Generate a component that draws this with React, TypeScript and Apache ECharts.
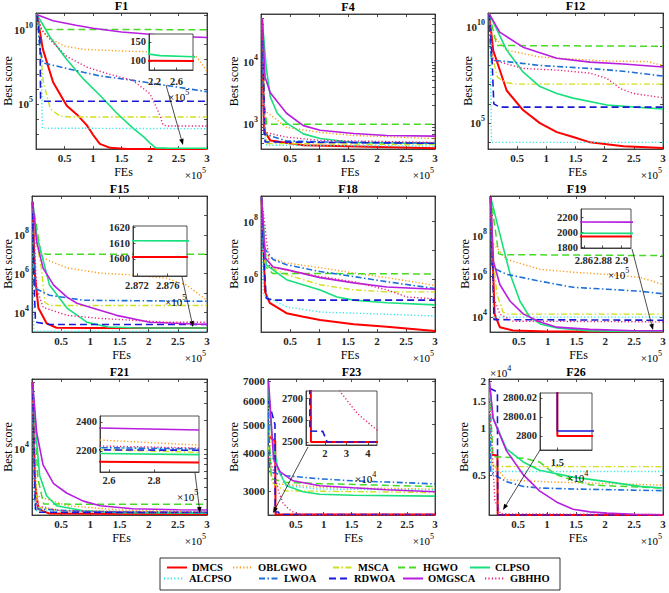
import React, { useEffect, useRef } from 'react';
import * as echarts from 'echarts';

type Pt = [number, number];

// algorithms, in legend order
const ALGOS = ['DMCS', 'OBLGWO', 'MSCA', 'HGWO', 'CLPSO', 'ALCPSO', 'LWOA', 'RDWOA', 'OMGSCA', 'GBHHO'];
const COLORS = ['#ff0000', '#ff9a10', '#cfe01c', '#46dc26', '#18e07c', '#2ee6e6', '#1e6fd9', '#1a1ad6', '#b81ee0', '#e8207a'];
const DASHES: (string | number[])[] = ['solid', [1.2, 2.2], [6, 2.5, 1.5, 2.5], [7, 4], 'solid', [1.2, 2.2], [6, 2.5, 1.5, 2.5], [7, 4], 'solid', [1.2, 2.2]];
const WIDTHS = [2, 1.4, 1.4, 1.5, 1.6, 1.4, 1.6, 1.6, 1.6, 1.4];

// x values are FEs in units of 1e5
const F1: Record<string, Pt[]> = {
  DMCS: [[0.02, 1e11], [0.12, 5e8], [0.3, 3e6], [0.54, 8e4], [0.72, 2e4], [0.89, 4000], [1.0, 900], [1.12, 220], [1.3, 120], [1.6, 101], [3, 100]],
  OBLGWO: [[0.02, 1e11], [0.1, 1e10], [0.2, 3.2e9], [0.5, 8e8], [0.83, 4.8e8], [1.7, 3.5e8], [2.4, 3.2e8], [2.65, 3e8], [2.83, 1.4e8], [3, 1.6e7]],
  MSCA: [[0.02, 1e11], [0.13, 3e6], [0.25, 5e4], [0.42, 1.6e4], [0.6, 1.4e4], [3, 1.4e4]],
  HGWO: [[0.02, 1.2e11], [0.06, 1.05e10], [3, 1e10]],
  CLPSO: [[0.02, 1e11], [0.25, 3e9], [0.54, 1e8], [0.83, 5e6], [1.12, 4e5], [1.42, 2.5e4], [1.7, 2500], [1.9, 600], [2.0, 250], [2.1, 118], [2.3, 114], [2.9, 111], [3, 110]],
  ALCPSO: [[0.02, 1e11], [0.095, 1e8], [0.11, 2500], [3, 2300]],
  LWOA: [[0.02, 1e11], [0.06, 1e9], [0.12, 6e7], [0.54, 2.5e7], [1.12, 8e6], [1.7, 4e6], [2.3, 1.8e6], [3, 7e5]],
  RDWOA: [[0.02, 1e11], [0.07, 2e9], [0.08, 2.5e5], [0.15, 1.6e5], [3, 1.6e5]],
  OMGSCA: [[0.02, 1e11], [0.3, 4e10], [0.7, 2e10], [1.0, 1.26e10], [1.5, 7e9], [2.0, 5e9], [2.5, 3.5e9], [3, 3e9]],
  GBHHO: [[0.02, 1e11], [0.1, 1e10], [0.3, 1.3e9], [0.54, 1.6e8], [0.9, 3e7], [1.3, 1e7], [1.7, 4e6], [2.0, 5e5], [2.15, 3e4], [2.23, 4000], [2.3, 3500], [3, 3500]],
};

const F4: Record<string, Pt[]> = {
  DMCS: [[0.02, 5e4], [0.05, 800], [0.16, 550], [0.73, 460], [3, 410]],
  OBLGWO: [[0.02, 5e4], [0.05, 1700], [0.44, 890], [1.02, 740], [1.6, 660], [3, 590]],
  MSCA: [[0.02, 5e4], [0.07, 1000], [0.1, 490], [3, 470]],
  HGWO: [[0.02, 5e4], [0.06, 2000], [0.1, 1000], [3, 1000]],
  CLPSO: [[0.02, 5e4], [0.09, 8300], [0.16, 2750], [0.28, 1500], [0.44, 1050], [0.73, 700], [1.02, 590], [1.6, 510], [3, 490]],
  ALCPSO: [[0.02, 5e4], [0.07, 600], [0.1, 460], [3, 445]],
  LWOA: [[0.02, 5e4], [0.05, 700], [0.44, 540], [1.02, 520], [3, 500]],
  RDWOA: [[0.02, 5e4], [0.06, 1500], [0.07, 520], [3, 495]],
  OMGSCA: [[0.02, 5e4], [0.07, 5700], [0.16, 3200], [0.44, 1500], [0.73, 950], [1.02, 800], [1.6, 710], [2.17, 660], [3, 645]],
  GBHHO: [[0.02, 5e4], [0.07, 740], [0.44, 620], [1.02, 550], [3, 510]],
};

const F12: Record<string, Pt[]> = {
  DMCS: [[0.02, 5e10], [0.09, 6e8], [0.32, 5e6], [0.6, 4.8e5], [0.89, 1e5], [1.18, 3.4e4], [1.46, 1.9e4], [1.75, 1e4], [2.32, 6300], [3, 5000]],
  OBLGWO: [[0.02, 5e10], [0.05, 4.8e9], [0.32, 6.3e8], [0.89, 2.75e8], [2.04, 1.7e8], [2.73, 1.6e8], [3, 1e8]],
  MSCA: [[0.02, 5e10], [0.05, 6e8], [0.16, 2.5e7], [0.32, 1.26e7], [0.5, 1.07e7], [3, 1.07e7]],
  HGWO: [[0.02, 5e10], [0.15, 1.1e9], [3, 1e9]],
  CLPSO: [[0.02, 5e10], [0.32, 6.3e8], [0.6, 4.6e7], [0.89, 8e6], [1.18, 3.5e6], [1.46, 2e6], [2.04, 8.7e5], [3, 5.4e5]],
  ALCPSO: [[0.02, 5e10], [0.04, 1e9], [0.06, 1e4], [3, 1e4]],
  LWOA: [[0.02, 5e10], [0.04, 1e9], [0.06, 1.9e8], [0.32, 1.6e8], [0.89, 1e8], [1.75, 7e7], [2.32, 5e7], [3, 2.8e7]],
  RDWOA: [[0.02, 5e10], [0.06, 1e9], [0.1, 1e6], [0.2, 6.8e5], [3, 6.8e5]],
  OMGSCA: [[0.02, 5e10], [0.2, 5.5e9], [0.6, 9e8], [1.18, 2.4e8], [1.75, 1.5e8], [2.32, 1.2e8], [3, 8.3e7]],
  GBHHO: [[0.02, 5e10], [0.09, 1.9e8], [0.6, 7e7], [1.18, 5.8e7], [1.75, 4e7], [2.04, 2.1e7], [2.27, 6.3e6], [2.49, 3.5e6], [3, 2.1e6]],
};

const F15: Record<string, Pt[]> = {
  DMCS: [[0.01, 5e9], [0.05, 8.5e5], [0.11, 1.7e4], [0.25, 2800], [0.42, 1650], [1.0, 1603], [3, 1601]],
  OBLGWO: [[0.01, 5e9], [0.05, 4.4e7], [0.19, 6.3e6], [0.6, 2e6], [1.17, 1.07e6], [1.73, 8.5e5], [2.3, 5.9e5], [2.65, 2.6e5], [2.88, 7.8e4], [3, 4.3e4]],
  MSCA: [[0.01, 5e9], [0.08, 4.4e7], [0.16, 2e6], [0.22, 3.4e4], [0.3, 2.3e4], [3, 2.3e4]],
  HGWO: [[0.01, 5e9], [0.15, 1.2e7], [0.25, 1e7], [3, 1e7]],
  CLPSO: [[0.01, 5e9], [0.08, 1e8], [0.3, 2.6e5], [0.6, 1.7e4], [0.94, 3200], [1.3, 1800], [1.7, 1650], [2.0, 1615], [3, 1611]],
  ALCPSO: [[0.01, 5e9], [0.02, 1e6], [0.03, 1100], [3, 1080]],
  LWOA: [[0.01, 5e9], [0.05, 1.8e5], [0.3, 7.8e4], [0.88, 4.3e4], [3, 3.8e4]],
  RDWOA: [[0.01, 5e9], [0.03, 1e6], [0.06, 3200], [0.3, 2450], [3, 2450]],
  OMGSCA: [[0.01, 5e9], [0.08, 4.4e7], [0.19, 1.95e6], [0.37, 2.6e5], [0.6, 6.2e4], [0.77, 3e4], [1.05, 1.66e4], [1.45, 7200], [2.02, 3200], [2.88, 2500], [3, 2500]],
  GBHHO: [[0.01, 5e9], [0.08, 1.8e5], [0.19, 1.86e4], [0.6, 7200], [1.17, 5000], [2.3, 3200], [3, 3200]],
};

const F18: Record<string, Pt[]> = {
  DMCS: [[0.01, 7e8], [0.07, 3.5e5], [0.15, 1.45e5], [0.44, 6.3e4], [0.73, 4.7e4], [1.02, 3.6e4], [1.6, 2.6e4], [2.17, 2.1e4], [3, 1.5e4]],
  OBLGWO: [[0.01, 7e8], [0.04, 8.9e6], [0.15, 5.5e6], [0.44, 3.6e6], [1.02, 2.45e6], [1.6, 1.6e6], [2.17, 1.1e6], [2.74, 7.2e5], [3, 5.8e5]],
  MSCA: [[0.01, 7e8], [0.07, 3e6], [0.44, 1.4e6], [1.02, 6.2e5], [1.6, 4.1e5], [2.17, 3.5e5], [3, 3.5e5]],
  HGWO: [[0.01, 7e8], [0.05, 3e6], [0.2, 1.55e6], [3, 1.48e6]],
  CLPSO: [[0.01, 7e8], [0.09, 3.1e6], [0.44, 9.3e5], [1.02, 4.1e5], [1.31, 2.3e5], [1.6, 1.8e5], [2.17, 1.45e5], [3, 1.23e5]],
  ALCPSO: [[0.01, 7e8], [0.04, 2.75e5], [0.21, 1.8e5], [0.44, 1.05e5], [1.02, 6.9e4], [1.6, 6.3e4], [3, 5e4]],
  LWOA: [[0.01, 7e8], [0.04, 1.3e7], [0.21, 4.7e6], [0.44, 3.1e6], [1.02, 1.8e6], [1.6, 1.2e6], [2.17, 7.9e5], [3, 4.6e5]],
  RDWOA: [[0.01, 7e8], [0.05, 5e6], [0.09, 2.1e5], [0.2, 1.8e5], [3, 1.8e5]],
  OMGSCA: [[0.01, 7e8], [0.07, 5.5e6], [0.21, 2.6e6], [0.44, 2.1e6], [1.02, 1.1e6], [1.6, 7.2e5], [2.17, 5.2e5], [3, 4.3e5]],
  GBHHO: [[0.01, 7e8], [0.15, 2.6e6], [1.02, 1.2e6], [1.6, 7.9e5], [2.17, 4.1e5], [2.52, 2.3e5], [3, 2e5]],
};

const F19: Record<string, Pt[]> = {
  DMCS: [[0.01, 8e9], [0.08, 1.4e4], [0.17, 3200], [0.4, 2200], [1.0, 1960], [3, 1940]],
  OBLGWO: [[0.01, 8e9], [0.03, 5e7], [0.29, 6.8e6], [0.87, 2.2e6], [1.44, 1.6e6], [2.02, 1.26e6], [2.6, 9e5], [3, 4e5]],
  MSCA: [[0.01, 8e9], [0.03, 5e7], [0.12, 1.3e5], [0.23, 1.7e4], [0.3, 1.4e4], [3, 1.4e4]],
  HGWO: [[0.01, 8e9], [0.15, 1.3e7], [0.2, 1.17e7], [3, 1.05e7]],
  CLPSO: [[0.01, 8e9], [0.23, 2.6e7], [0.35, 1.26e6], [0.52, 6e4], [0.69, 1e4], [0.87, 4600], [1.16, 2900], [1.73, 2100], [2.5, 1990], [3, 1980]],
  ALCPSO: [[0.01, 8e9], [0.05, 1e6], [0.06, 1e4], [3, 1e4]],
  LWOA: [[0.01, 8e9], [0.03, 2.75e6], [0.29, 1.26e6], [0.87, 5.8e5], [1.44, 2.9e5], [2.02, 2.35e5], [2.6, 1.86e5], [3, 1.4e5]],
  RDWOA: [[0.01, 8e9], [0.05, 1e6], [0.07, 7500], [3, 7000]],
  OMGSCA: [[0.01, 8e9], [0.06, 5.4e6], [0.17, 4e5], [0.35, 6e4], [0.58, 1.4e4], [0.87, 5800], [1.16, 3200], [1.73, 2500], [2.5, 2140], [3, 2130]],
  GBHHO: [[0.01, 8e9], [0.06, 1e5], [0.17, 1.4e4], [0.4, 6300], [3, 5800]],
};

const F21: Record<string, Pt[]> = {
  DMCS: [[0.01, 5e4], [0.05, 4500], [0.11, 2400], [0.3, 2150], [3, 2120]],
  OBLGWO: [[0.01, 5e4], [0.05, 1e4], [0.08, 3300], [0.6, 2600], [1.5, 2350], [2.5, 2280], [3, 2240]],
  MSCA: [[0.01, 5e4], [0.05, 5000], [0.1, 2500], [0.5, 2300], [3, 2190]],
  HGWO: [[0.01, 5e4], [0.1, 5000], [0.2, 2700], [3, 2690]],
  CLPSO: [[0.01, 5e4], [0.08, 1.2e4], [0.13, 5400], [0.25, 3300], [0.42, 2600], [0.88, 2300], [1.5, 2200], [3, 2175]],
  ALCPSO: [[0.01, 5e4], [0.03, 3000], [0.06, 2300], [3, 2210]],
  LWOA: [[0.01, 5e4], [0.05, 3000], [0.1, 2400], [1.0, 2250], [3, 2215]],
  RDWOA: [[0.01, 5e4], [0.06, 2400], [0.1, 2220], [3, 2205]],
  OMGSCA: [[0.01, 5e4], [0.08, 1.5e4], [0.19, 6900], [0.37, 4400], [0.6, 3500], [0.88, 2900], [1.17, 2600], [1.73, 2420], [2.5, 2360], [3, 2345]],
  GBHHO: [[0.01, 5e4], [0.07, 2600], [0.5, 2300], [3, 2220]],
};

const F23: Record<string, Pt[]> = {
  DMCS: [[0.01, 4570], [0.13, 4400], [0.135, 2500], [3, 2500]],
  OBLGWO: [[0.01, 6000], [0.06, 3400], [0.1, 3170], [1.0, 3080], [3, 3040]],
  MSCA: [[0.01, 4240], [0.07, 3200], [0.3, 3000], [3, 2960]],
  HGWO: [[0.01, 5000], [0.06, 3300], [0.3, 3200], [1.0, 3170], [2.1, 3130], [3, 3100]],
  CLPSO: [[0.01, 6630], [0.07, 4570], [0.18, 3530], [0.33, 3120], [0.63, 2980], [0.93, 2920], [1.53, 2900], [3, 2880]],
  ALCPSO: [[0.01, 6000], [0.03, 4000], [0.33, 3120], [0.93, 3040], [3, 3020]],
  LWOA: [[0.01, 5500], [0.03, 3470], [0.33, 3370], [0.93, 3290], [1.53, 3240], [2.13, 3210], [3, 3165]],
  RDWOA: [[0.01, 6000], [0.125, 5000], [0.13, 2550], [0.19, 2548], [0.21, 2500], [3, 2500]],
  OMGSCA: [[0.01, 7000], [0.1, 3830], [0.22, 3470], [0.45, 3240], [0.93, 3120], [1.53, 3070], [2.13, 3025], [3, 2980]],
  GBHHO: [[0.01, 3900], [0.1, 3500], [0.2, 2950], [0.27, 2730], [0.35, 2630], [0.44, 2555], [0.55, 2505], [0.7, 2500], [3, 2500]],
};

const F26: Record<string, Pt[]> = {
  DMCS: [[0.01, 6800], [0.145, 6700], [0.15, 2800], [3, 2800]],
  OBLGWO: [[0.01, 15000], [0.05, 6000], [0.3, 4700], [1.0, 4550], [2.0, 4450], [3, 4340]],
  MSCA: [[0.01, 17000], [0.04, 6500], [0.06, 5700], [3, 5690]],
  HGWO: [[0.01, 17000], [0.07, 6600], [0.59, 6450], [0.87, 6100], [1.05, 5400], [1.2, 5000], [1.45, 4660], [1.74, 4360], [2.03, 4300], [3, 4160]],
  CLPSO: [[0.01, 19000], [0.07, 11600], [0.3, 7400], [0.59, 6100], [0.87, 5400], [1.45, 4880], [2.03, 4570], [2.6, 4260], [3, 4160]],
  ALCPSO: [[0.01, 16000], [0.04, 5400], [0.06, 5300], [3, 5300]],
  LWOA: [[0.01, 12000], [0.03, 5200], [0.3, 4570], [0.59, 4260], [0.87, 4160], [1.45, 4100], [3, 4000]],
  RDWOA: [[0.01, 18000], [0.145, 17000], [0.15, 2800.0026], [3, 2800.0026]],
  OMGSCA: [[0.01, 19700], [0.07, 11600], [0.3, 7200], [0.59, 5060], [0.87, 3990], [1.17, 3380], [1.45, 3050], [1.74, 2930], [2.03, 2880], [2.5, 2830], [3, 2810]],
  GBHHO: [[0.01, 15000], [0.1, 3500], [0.2, 2850], [3, 2820]],
};

const X_TICKS = [0.5, 1, 1.5, 2, 2.5, 3];

const FONT = 'Liberation Serif, Times New Roman, serif';
const INK = '#262626';

type Panel = {
  title: string;
  data: Record<string, Pt[]>;
  rect: [number, number, number, number];
  yMin: number;
  yMax: number;
  yLabels: number[];
  yTicks: number[];
  fmt: 'pow' | 'plain' | 'e4';
  labelX: number;
};

const PANELS: Panel[] = [
  { title: 'F1', data: F1, rect: [36, 13, 207, 149], yMin: 100, yMax: 1.32e11, yLabels: [1e5, 1e10], yTicks: [1e3, 1e4, 1e5, 1e6, 1e7, 1e8, 1e9, 1e10, 1e11], fmt: 'pow', labelX: 8 },
  { title: 'F4', data: F4, rect: [261, 14, 435, 149], yMin: 400, yMax: 5.9e4, yLabels: [1e3, 1e4], yTicks: [500, 600, 700, 800, 900, 1e3, 2e3, 3e3, 4e3, 5e3, 6e3, 7e3, 8e3, 9e3, 1e4, 2e4, 3e4, 4e4, 5e4], fmt: 'pow', labelX: 234 },
  { title: 'F12', data: F12, rect: [488, 13, 663, 149], yMin: 4500, yMax: 5.4e10, yLabels: [1e5, 1e10], yTicks: [1e4, 1e5, 1e6, 1e7, 1e8, 1e9, 1e10], fmt: 'pow', labelX: 468 },
  { title: 'F15', data: F15, rect: [32, 196, 207, 332], yMin: 1000, yMax: 1e10, yLabels: [1e4, 1e6, 1e8], yTicks: [1e4, 1e5, 1e6, 1e7, 1e8, 1e9], fmt: 'pow', labelX: 8 },
  { title: 'F18', data: F18, rect: [261, 196, 435, 332], yMin: 1.38e4, yMax: 7.9e8, yLabels: [1e6, 1e8], yTicks: [1e5, 1e6, 1e7, 1e8], fmt: 'pow', labelX: 234 },
  { title: 'F19', data: F19, rect: [490, 196, 663, 332], yMin: 1850, yMax: 8.9e9, yLabels: [1e4, 1e6, 1e8], yTicks: [1e4, 1e5, 1e6, 1e7, 1e8, 1e9], fmt: 'pow', labelX: 465 },
  { title: 'F21', data: F21, rect: [32, 379, 207, 515], yMin: 2080, yMax: 5.4e4, yLabels: [1e4], yTicks: [3e3, 4e3, 5e3, 6e3, 7e3, 8e3, 9e3, 1e4, 2e4, 3e4, 4e4, 5e4], fmt: 'pow', labelX: 8 },
  { title: 'F23', data: F23, rect: [268, 379, 435, 515], yMin: 2490, yMax: 7100, yLabels: [3000, 4000, 5000, 6000, 7000], yTicks: [3000, 4000, 5000, 6000, 7000], fmt: 'plain', labelX: 234 },
  { title: 'F26', data: F26, rect: [489, 379, 663, 515], yMin: 2800, yMax: 20600, yLabels: [5000, 10000, 15000, 20000], yTicks: [5000, 10000, 15000, 20000], fmt: 'e4', labelX: 464 },
];

type Inset = {
  panel: number;
  rect: [number, number, number, number];
  x: [number, number];
  y: [number, number];
  xLabels: number[];
  yLabels: number[];
  xMargin: number;
  scale10?: boolean;
  exp: [string, number, number];
  arrow: [number, number, number, number];
};

const INSETS: Inset[] = [
  { panel: 0, rect: [149, 34, 193, 70], x: [2.1, 2.9], y: [76, 171], xLabels: [2.2, 2.6], yLabels: [100, 150], xMargin: 6, exp: ['5', 168, 97], arrow: [166, 85, 183, 145] },
  { panel: 3, rect: [133, 226, 187, 276], x: [2.8715, 2.8785], y: [1589, 1621], xLabels: [2.872, 2.876], yLabels: [1600, 1610, 1620], xMargin: 4, exp: ['5', 165, 302], arrow: [182, 277, 193, 327] },
  { panel: 5, rect: [581, 209, 631, 248], x: [2.857, 2.91], y: [1787, 2307], xLabels: [2.86, 2.88, 2.9], yLabels: [1800, 2000, 2200], xMargin: 7, exp: ['5', 608, 275], arrow: [632, 249, 653, 330] },
  { panel: 6, rect: [100, 416, 199, 472], x: [2.56, 3.0], y: [2055, 2441], xLabels: [2.6, 2.8], yLabels: [2200, 2400], xMargin: 3, exp: ['5', 177, 497], arrow: [195, 473, 200, 513] },
  { panel: 7, rect: [306, 391, 377, 445], x: [0.112, 0.442], y: [2486, 2732], xLabels: [0.2, 0.3, 0.4], yLabels: [2500, 2600, 2700], xMargin: 3, scale10: true, exp: ['4', 355, 479], arrow: [308, 447, 273, 513] },
  { panel: 8, rect: [540, 393, 592, 450], x: [0.13, 0.19], y: [2799.9926, 2800.0226], xLabels: [0.15], yLabels: [2800, 2800.01, 2800.02], xMargin: 7, scale10: true, exp: ['4', 567, 478], arrow: [540, 450, 503, 510] },
];

// legend text start positions
const LEGEND_POS: [number, number][] = [
  [191, 568], [257, 568], [357, 568], [422, 568], [494, 568],
  [188, 579], [283, 579], [353, 579], [427, 579], [509, 579],
];

const SUP = { fontSize: 8, fontFamily: FONT, padding: [0, 0, 9, 0], color: INK };

function arrow(x1: number, y1: number, x2: number, y2: number): any[] {
  const a = Math.atan2(y2 - y1, x2 - x1);
  const L = 6;
  const W = 2.3;
  const bx = x2 - L * Math.cos(a);
  const by = y2 - L * Math.sin(a);
  return [
    { type: 'line', z: 100, shape: { x1, y1, x2: bx, y2: by }, style: { stroke: '#000', lineWidth: 0.7 } },
    {
      type: 'polygon', z: 100,
      shape: { points: [[x2, y2], [bx + W * Math.sin(a), by - W * Math.cos(a)], [bx - W * Math.sin(a), by + W * Math.cos(a)]] },
      style: { fill: '#000' },
    },
  ];
}

function text(x: number, y: number, str: string, extra: any = {}, rotation = 0): any {
  const align = extra.align || 'center';
  return {
    type: 'text', x, y, rotation, z: 100,
    style: {
      text: str, fontFamily: FONT, fontSize: 12, fill: '#000',
      align, textAlign: align, verticalAlign: 'middle', textVerticalAlign: 'middle',
      ...extra,
    },
  };
}

function buildOption(): any {
  const grid: any[] = [];
  const xAxis: any[] = [];
  const yAxis: any[] = [];
  const series: any[] = [];
  const graphic: any[] = [];

  const axisLine = { show: true, onZero: false, lineStyle: { color: INK, width: 0.8 } };
  const tickStyle = { color: INK, width: 0.8 };
  const tickLabel = {
    fontFamily: FONT, fontSize: 11, fontWeight: 'bold', color: INK,
    hideOverlap: false, showMinLabel: true, showMaxLabel: true, interval: 0,
  };

  PANELS.forEach((p, i) => {
    const [l, t, r, b] = p.rect;
    grid.push({
      left: l, top: t, width: r - l, height: b - t, show: true,
      backgroundColor: '#fff', borderColor: INK, borderWidth: 0.8,
      containLabel: false, outerBoundsMode: 'none',
    });
    const xBase = { gridIndex: i, type: 'value', min: 0, max: 3, axisLine, splitLine: { show: false } };
    xAxis.push({
      ...xBase, position: 'bottom',
      axisTick: { inside: true, length: 3, customValues: X_TICKS, lineStyle: tickStyle },
      axisLabel: { ...tickLabel, margin: 3, customValues: X_TICKS, formatter: (v: number) => String(v) },
    });
    xAxis.push({
      ...xBase, position: 'top',
      axisTick: { inside: true, length: 3, customValues: X_TICKS, lineStyle: tickStyle },
      axisLabel: { show: false },
    });
    const yBase = {
      gridIndex: i, type: 'log', logBase: 10, min: p.yMin, max: p.yMax,
      axisLine, splitLine: { show: false }, minorTick: { show: false },
    };
    const fmt = (v: number) => {
      if (p.fmt === 'pow') return `10{s|${Math.round(Math.log10(v))}}`;
      if (p.fmt === 'e4') return String(Math.round(v / 1000) / 10);
      return String(Math.round(v));
    };
    yAxis.push({
      ...yBase, position: 'left',
      axisTick: { inside: true, length: 3, customValues: p.yTicks, lineStyle: tickStyle },
      axisLabel: { ...tickLabel, margin: 3, customValues: p.yLabels, formatter: fmt, rich: { s: { ...SUP, fontWeight: 'bold' } } },
    });
    yAxis.push({
      ...yBase, position: 'right',
      axisTick: { inside: true, length: 3, customValues: p.yTicks, lineStyle: tickStyle },
      axisLabel: { show: false },
    });

    ALGOS.forEach((name, k) => {
      series.push({
        type: 'line', name, data: p.data[name], xAxisIndex: 2 * i, yAxisIndex: 2 * i,
        symbol: 'none', showSymbol: false, silent: true, z: 2,
        lineStyle: { color: COLORS[k], width: WIDTHS[k], type: DASHES[k] },
        itemStyle: { color: COLORS[k] },
      });
    });

    graphic.push(text((l + r) / 2, t - 7, p.title, { fontWeight: 'bold', fontSize: 12 }));
    graphic.push(text(p.labelX, (t + b) / 2, 'Best score', {}, Math.PI / 2));
    graphic.push(text((l + r) / 2 + 2, b + 23, 'FEs'));
    graphic.push(text(r - 1, b + 26, '×10{s|5}', { align: 'right', fontSize: 11, rich: { s: SUP } }));
  });

  // exponent label at top of F26 axis
  graphic.push(text(490, 373, '×10{s|4}', { align: 'left', fontSize: 11, rich: { s: SUP } }));

  INSETS.forEach((ins, j) => {
    const g = PANELS.length + j;
    const ax = 2 * PANELS.length + j;
    const [l, t, r, b] = ins.rect;
    grid.push({
      left: l, top: t, width: r - l, height: b - t, show: true, z: 10,
      backgroundColor: '#fff', borderColor: INK, borderWidth: 0.8,
      containLabel: false, outerBoundsMode: 'none',
    });
    xAxis.push({
      gridIndex: g, type: 'value', min: ins.x[0], max: ins.x[1], position: 'bottom', z: 11,
      axisLine, splitLine: { show: false },
      axisTick: { inside: true, length: 2.5, customValues: ins.xLabels, lineStyle: tickStyle },
      axisLabel: {
        ...tickLabel, fontSize: 10.5, margin: ins.xMargin, customValues: ins.xLabels,
        formatter: (v: number) => String(ins.scale10 ? Math.round(v * 10000) / 1000 : Math.round(v * 10000) / 10000),
      },
    });
    yAxis.push({
      gridIndex: g, type: 'value', min: ins.y[0], max: ins.y[1], position: 'left', z: 11,
      axisLine, splitLine: { show: false },
      axisTick: { inside: true, length: 2.5, customValues: ins.yLabels, lineStyle: tickStyle },
      axisLabel: { ...tickLabel, fontSize: 10.5, margin: 3, customValues: ins.yLabels, formatter: (v: number) => String(Math.round(v * 100) / 100) },
    });
    const p = PANELS[ins.panel];
    ALGOS.forEach((name, k) => {
      series.push({
        type: 'line', name, data: p.data[name], xAxisIndex: ax, yAxisIndex: ax,
        symbol: 'none', showSymbol: false, silent: true, z: 12, clip: true,
        lineStyle: { color: COLORS[k], width: WIDTHS[k], type: DASHES[k] },
        itemStyle: { color: COLORS[k] },
      });
    });
    graphic.push(text(ins.exp[1], ins.exp[2], `×10{s|${ins.exp[0]}}`, { align: 'left', fontSize: 11, rich: { s: SUP } }));
    graphic.push(...arrow(...ins.arrow));
  });

  // legend frame
  graphic.push({
    type: 'rect', z: 1, shape: { x: 160, y: 558, width: 400, height: 32 },
    style: { fill: 'none', stroke: '#000', lineWidth: 0.8 },
  });

  const legend = ALGOS.map((name, k) => ({
    data: [name],
    left: LEGEND_POS[k][0] - 25,
    top: LEGEND_POS[k][1] - 6,
    itemWidth: 20,
    itemHeight: 12,
    padding: 0,
    itemGap: 0,
    selectedMode: false,
    itemStyle: { opacity: 0, borderWidth: 0 },
    textStyle: { fontFamily: FONT, fontSize: 10.5, fontWeight: 'bold', color: '#000' },
  }));

  return {
    animation: false,
    backgroundColor: '#fff',
    textStyle: { fontFamily: FONT },
    grid,
    xAxis,
    yAxis,
    series,
    legend,
    graphic: { elements: graphic },
  };
}

export default function App() {
  const ref = useRef<HTMLDivElement>(null);

  useEffect(() => {
    if (!ref.current) return;
    const chart = echarts.init(ref.current, undefined, { renderer: 'svg' });
    chart.setOption(buildOption());
    return () => {
      chart.dispose();
    };
  }, []);

  return (
    <div
      ref={ref}
      style={{ position: 'absolute', left: 0, top: 0, width: 669, height: 593, background: '#fff' }}
    />
  );
}
